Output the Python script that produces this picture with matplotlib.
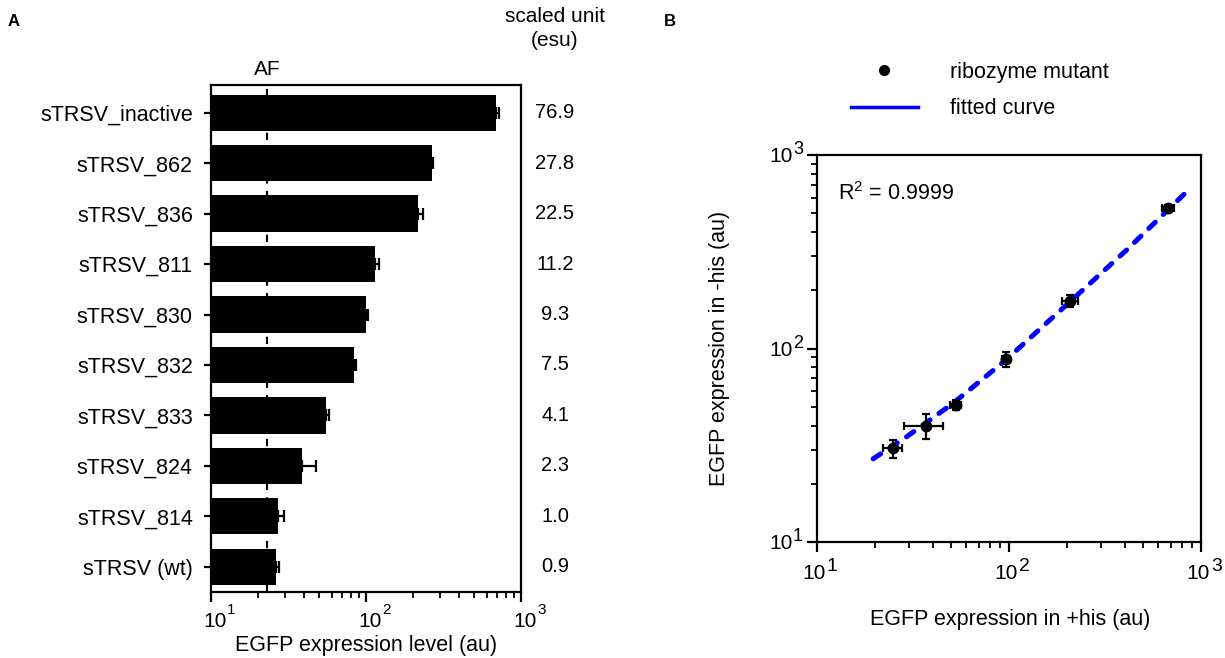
import numpy as np
import matplotlib
matplotlib.use('Agg')
import matplotlib.pyplot as plt
import matplotlib.transforms as mtransforms

plt.rcParams['font.family'] = ['Liberation Sans', 'DejaVu Sans']
plt.rcParams['mathtext.fontset'] = 'custom'
plt.rcParams['mathtext.rm'] = 'Liberation Sans'
plt.rcParams['mathtext.it'] = 'Liberation Sans:italic'

# panel A data
names = ['sTRSV_inactive', 'sTRSV_862', 'sTRSV_836', 'sTRSV_811', 'sTRSV_830',
         'sTRSV_832', 'sTRSV_833', 'sTRSV_824', 'sTRSV_814', 'sTRSV (wt)']
expr = [687, 265, 215, 115, 99.5, 84, 55, 38.5, 27, 26.3]
expr_err = [34, 5, 17, 6, 3, 2.5, 2.5, 9, 2.5, 1.2]
esu = ['76.9', '27.8', '22.5', '11.2', '9.3', '7.5', '4.1', '2.3', '1.0', '0.9']
af_level = 23

# panel B data
plus_his = [676, 209, 96, 53, 37, 25]
plus_his_err = [47, 21, 4, 3.5, 8.5, 2.8]
minus_his = [534, 176, 88, 51, 40, 30.5]
minus_his_err = [20, 12, 8, 3, 5.8, 3.2]
fit_x = [19.6, 29.3, 51, 96, 215, 410, 842]
fit_y = [26.9, 35, 52, 87, 180, 323, 646]

decades = [1, 2, 3]

W, H = 1225, 658
fig = plt.figure(figsize=(W / 100, H / 100), dpi=100)
FS = 15.5


def frac(x0, y0, x1, y1):
    return [x0 / W, 1 - y1 / H, (x1 - x0) / W, (y1 - y0) / H]


def px(x, y):
    return (x / W, 1 - y / H)


def style(ax):
    for s in ax.spines.values():
        s.set_linewidth(1.6)
    ax.tick_params(which='major', direction='out', length=7, width=1.6)
    ax.tick_params(which='minor', direction='out', length=4, width=1.3)


def power_label(ax, axis, e, base_off, exp_off, base_size, exp_size):
    # "10" plus a separately sized exponent, like the original figure
    if axis == 'x':
        tr = mtransforms.blended_transform_factory(ax.transData, ax.transAxes)
        xy = (10.0 ** e, 0)
    else:
        tr = mtransforms.blended_transform_factory(ax.transAxes, ax.transData)
        xy = (0, 10.0 ** e)
    ax.annotate('10', xy=xy, xycoords=tr, xytext=base_off, textcoords='offset pixels',
                ha='left', va='baseline', fontsize=base_size, annotation_clip=False)
    ax.annotate(str(e), xy=xy, xycoords=tr, xytext=exp_off, textcoords='offset pixels',
                ha='left', va='baseline', fontsize=exp_size, annotation_clip=False)


# ---- panel A ----
axA = fig.add_axes(frac(211, 85, 521, 592))
pos = np.arange(len(names))
axA.axvline(af_level, color='black', lw=1.5, ls=(0, (3.5, 3.5)), zorder=0)
axA.barh(pos, expr, height=0.72, color='black', zorder=2)
axA.errorbar(expr, pos, xerr=[np.zeros(len(expr)), expr_err], fmt='none',
             ecolor='black', elinewidth=1.6, capsize=4, capthick=1.6, zorder=3)
axA.set_xscale('log')
axA.set_xlim(10, 1000)
axA.set_ylim(len(names) - 0.5, -0.55)
axA.set_yticks(pos)
axA.set_yticklabels(names, fontsize=FS)
style(axA)
axA.tick_params(axis='y', length=5, pad=8)
axA.tick_params(axis='x', which='both', labelbottom=False)
for e in decades:
    power_label(axA, 'x', e, (-8, -35), (16, -22), 15, 11)
fig.text(*px(366, 645), 'EGFP expression level (au)', ha='center', va='center', fontsize=FS)

for i, v in enumerate(esu):
    yp = axA.transData.transform((10, pos[i]))[1]
    fig.text(555 / W, yp / H, v, ha='center', va='center', fontsize=14.5)
fig.text(*px(555, 16), 'scaled unit', ha='center', va='center', fontsize=15)
fig.text(*px(555, 41), '(esu)', ha='center', va='center', fontsize=15)
axA.text(af_level, -0.85, 'AF', ha='center', va='center', fontsize=15)
fig.text(*px(14, 22), 'A', ha='center', va='center', fontsize=12, fontweight='bold')

# ---- panel B ----
axB = fig.add_axes(frac(817, 155, 1201, 542))
axB.plot(fit_x, fit_y, color='#0000ff', lw=3.6, ls=(0, (1.8, 2.2)),
         dash_capstyle='round', zorder=2)
axB.errorbar(plus_his, minus_his, xerr=plus_his_err, yerr=minus_his_err,
             fmt='o', color='black', ms=7.5, elinewidth=1.6, capsize=3,
             capthick=1.6, zorder=3)
axB.set_xscale('log')
axB.set_yscale('log')
axB.set_xlim(10, 1000)
axB.set_ylim(10, 1000)
style(axB)
axB.tick_params(which='both', labelbottom=False, labelleft=False)
for e in decades:
    power_label(axB, 'x', e, (-15, -37), (10, -29), 15, 14)
    power_label(axB, 'y', e, (-48, -7), (-24, 1), 15, 13)
fig.text(*px(1010, 620), 'EGFP expression in +his (au)', ha='center', va='center', fontsize=FS)
fig.text(*px(719, 348), 'EGFP expression in -his (au)', ha='center', va='center',
         rotation=90, fontsize=FS)
axB.text(0.055, 0.9, 'R$^2$ = 0.9999', transform=axB.transAxes, fontsize=15.5,
         ha='left', va='center')
fig.text(*px(670, 22), 'B', ha='center', va='center', fontsize=12, fontweight='bold')

pt_handle = plt.Line2D([], [], marker='o', color='black', ls='none', ms=7)
line_handle = plt.Line2D([], [], color='#0000ff', lw=2.5)
fig.legend([pt_handle, line_handle], ['ribozyme mutant', 'fitted curve'],
           loc='upper left', bbox_to_anchor=px(851, 62), frameon=False,
           fontsize=FS, handlelength=3.1, handletextpad=1.5, labelspacing=0.7,
           borderpad=0, borderaxespad=0)

fig.savefig('out.png', dpi=100)
